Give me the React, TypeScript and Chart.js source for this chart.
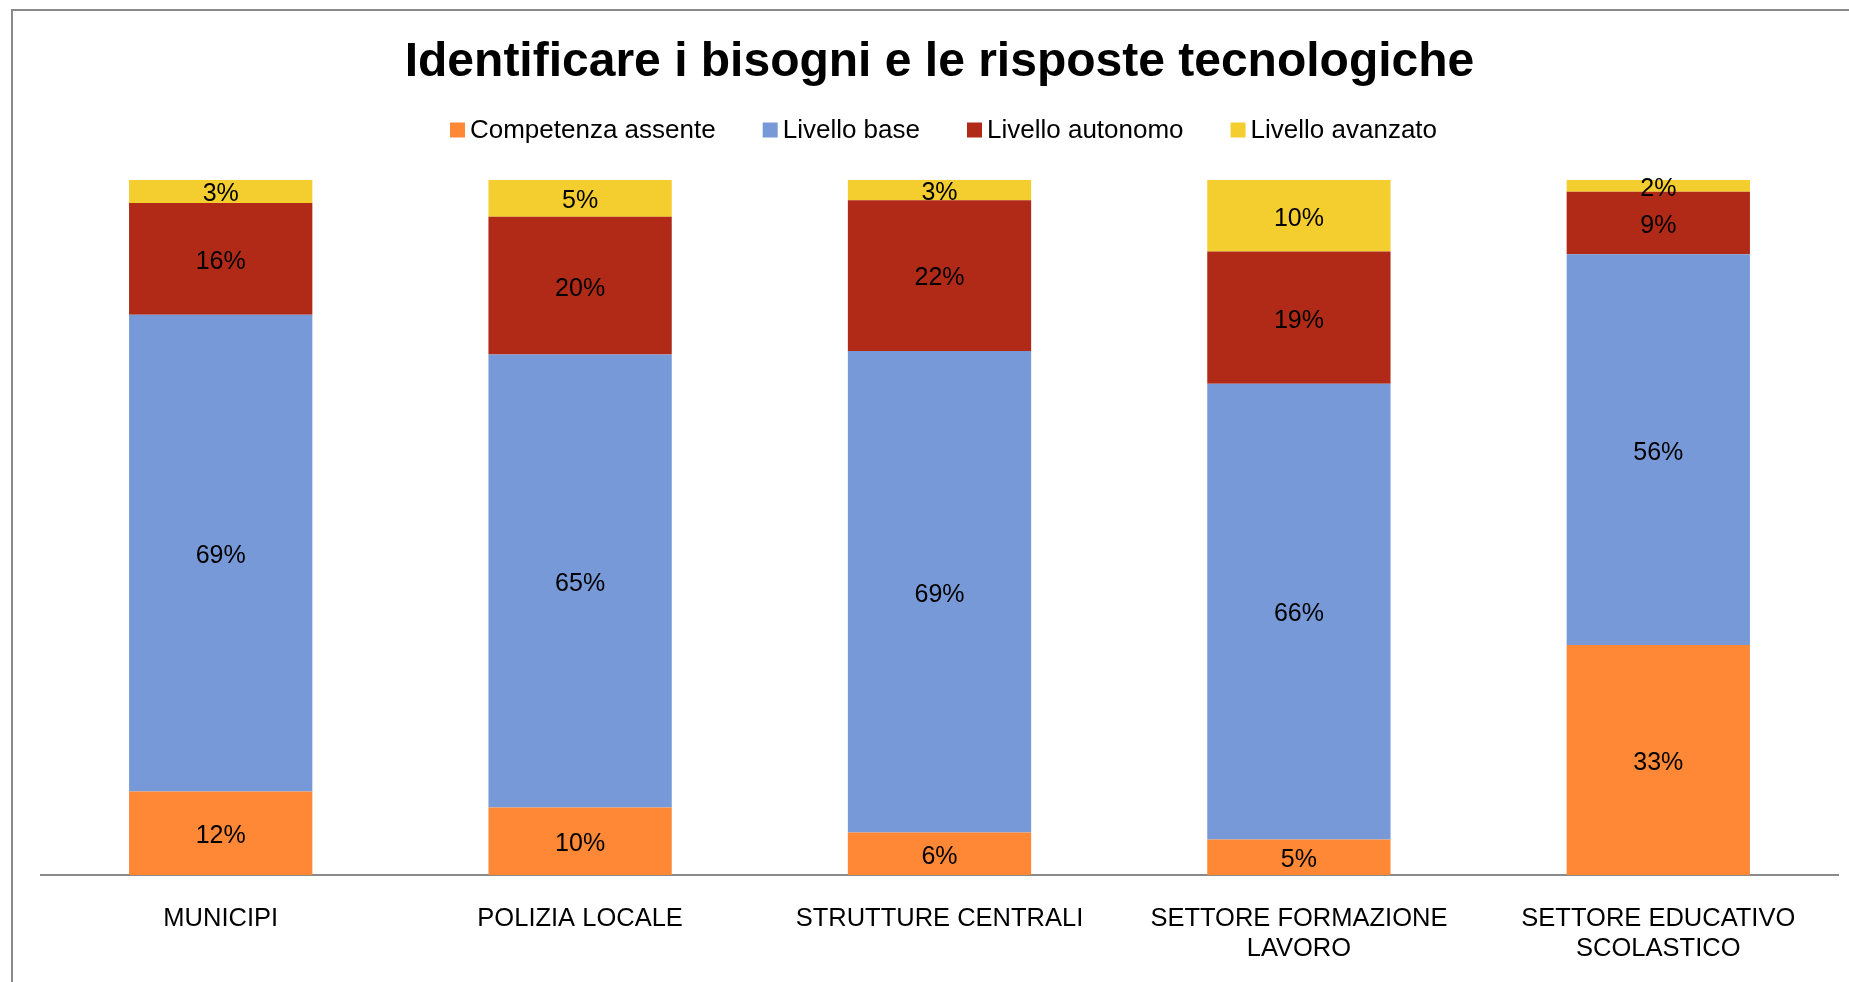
import React, { useEffect, useRef } from "react";
import { Chart, registerables } from "chart.js";

Chart.register(...registerables);

const categories: string[][] = [
  ["MUNICIPI"],
  ["POLIZIA LOCALE"],
  ["STRUTTURE CENTRALI"],
  ["SETTORE FORMAZIONE", "LAVORO"],
  ["SETTORE EDUCATIVO", "SCOLASTICO"],
];
const seriesNames = ["Competenza assente", "Livello base", "Livello autonomo", "Livello avanzato"];
const competenzaAssente = [12.0, 9.7, 6.1, 5.1, 33.1];
const livelloBase = [68.6, 65.2, 69.3, 65.6, 56.2];
const livelloAutonomo = [16.1, 19.8, 21.7, 19.0, 9.0];
const livelloAvanzato = [3.3, 5.3, 2.9, 10.3, 1.7];
const seriesColors = ["#FE8836", "#7799D8", "#B02A17", "#F4CD2E"];

const FONT = "'Liberation Sans', Arial, Helvetica, sans-serif";

const dataLabelPlugin = {
  id: "dataLabels",
  afterDatasetsDraw(chart: any) {
    const ctx = chart.ctx;
    ctx.save();
    ctx.font = `25px ${FONT}`;
    ctx.fillStyle = "#000000";
    ctx.textAlign = "center";
    ctx.textBaseline = "middle";
    chart.data.datasets.forEach((ds: any, di: number) => {
      const meta = chart.getDatasetMeta(di);
      meta.data.forEach((el: any, i: number) => {
        const v = ds.data[i];
        const y = (el.y + el.base) / 2 + 3;
        ctx.fillText(`${Math.round(v)}%`, el.x, y);
      });
    });
    ctx.restore();
  },
};

const legendPlugin = {
  id: "customLegend",
  afterDraw(chart: any) {
    const ctx = chart.ctx;
    ctx.save();
    ctx.font = `26px ${FONT}`;
    ctx.textBaseline = "middle";
    ctx.textAlign = "left";
    const box = 15;
    const gapText = 5;
    const gapItem = 47;
    const widths = seriesNames.map((n) => ctx.measureText(n).width);
    const total =
      widths.reduce((a, w) => a + box + gapText + w, 0) + gapItem * (seriesNames.length - 1);
    const cx = (chart.chartArea.left + chart.chartArea.right) / 2 + 4;
    let x = cx - total / 2;
    const cy = 130;
    seriesNames.forEach((n, i) => {
      ctx.fillStyle = seriesColors[i];
      ctx.fillRect(x, cy - box / 2, box, box);
      ctx.fillStyle = "#000000";
      ctx.fillText(n, x + box + gapText, cy + 1);
      x += box + gapText + widths[i] + gapItem;
    });
    ctx.restore();
  },
};

export default function App() {
  const ref = useRef<HTMLCanvasElement | null>(null);
  useEffect(() => {
    if (!ref.current) return;
    const values = [competenzaAssente, livelloBase, livelloAutonomo, livelloAvanzato];
    const chart = new Chart(ref.current, {
      type: "bar",
      data: {
        labels: categories,
        datasets: seriesNames.map((name, i) => ({
          label: name,
          data: values[i],
          backgroundColor: seriesColors[i],
          borderWidth: 0,
          categoryPercentage: 1,
          barPercentage: 0.51,
        })),
      },
      options: {
        animation: false,
        responsive: false,
        devicePixelRatio: 1,
        layout: { padding: { left: 41, right: 11, top: 0, bottom: 0 } },
        plugins: {
          legend: { display: false },
          tooltip: { enabled: false },
          title: {
            display: true,
            text: "Identificare i bisogni e le risposte tecnologiche",
            color: "#000000",
            font: { family: FONT, size: 48, weight: "bold", lineHeight: 1.2 },
            padding: { top: 33.5, bottom: 88.9 },
          },
        },
        scales: {
          x: {
            stacked: true,
            grid: { display: false, drawTicks: false },
            border: { display: true, color: "#8a8a8a", width: 2 },
            ticks: {
              color: "#000000",
              padding: 28.5,
              maxRotation: 0,
              autoSkip: false,
              font: { family: FONT, size: 25.5, lineHeight: 30 / 25.5 },
            },
            afterFit: (scale: any) => {
              scale.height = 107;
            },
          },
          y: {
            stacked: true,
            min: 0,
            max: 100,
            display: false,
          },
        },
      },
      plugins: [dataLabelPlugin, legendPlugin],
    });
    return () => chart.destroy();
  }, []);

  return (
    <div
      style={{
        position: "fixed",
        left: 0,
        top: 0,
        width: 1849,
        height: 982,
        overflow: "hidden",
        background: "#ffffff",
      }}
    >
      <canvas
        ref={ref}
        width={1849}
        height={982}
        style={{ position: "absolute", left: 0, top: 0, width: 1849, height: 982 }}
      />
      <div
        style={{
          position: "absolute",
          left: 11,
          top: 9,
          width: 2000,
          height: 2000,
          borderTop: "2px solid #8a8a8a",
          borderLeft: "2px solid #8a8a8a",
          pointerEvents: "none",
        }}
      />
    </div>
  );
}
